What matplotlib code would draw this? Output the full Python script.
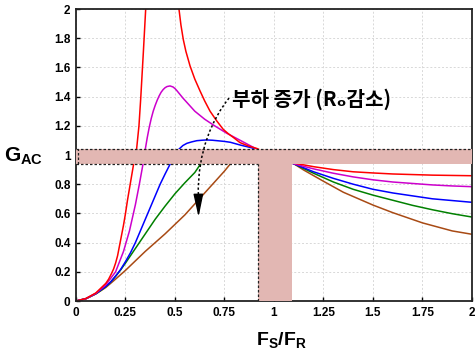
import numpy as np
import matplotlib
matplotlib.use("Agg")
from matplotlib import pyplot as plt
from matplotlib.path import Path
from matplotlib.patches import PathPatch, Rectangle

plt.rcParams['font.family'] = ['Liberation Sans', 'DejaVu Sans']
plt.rcParams['mathtext.fontset'] = 'custom'
plt.rcParams['mathtext.rm'] = 'Liberation Sans'
plt.rcParams['mathtext.bf'] = 'Liberation Sans:bold'

nan = np.nan

# gain curves (x = Fs/Fr, g = Gac)
red_x = [0, 0.05, 0.1, 0.15, 0.165, 0.18, 0.19, 0.2, 0.21, 0.22, 0.23, 0.24, 0.25, 0.26, 0.27,
         0.28, 0.29, 0.298, 0.306, 0.318, 0.327, 0.34, 0.352, 0.43,
         0.52, 0.53, 0.542, 0.555, 0.576, 0.6, 0.626, 0.65, 0.677, 0.71, 0.744, 0.77,
         0.795, 0.828, 0.87, 0.913, 1.0, 1.1, 1.2, 1.3, 1.4, 1.5, 1.6, 1.7, 1.8, 1.9, 2.0]
red_g = [0, 0.017, 0.055, 0.12, 0.15, 0.19, 0.22, 0.26, 0.31, 0.38, 0.45, 0.52, 0.6, 0.69, 0.77,
         0.85, 0.93, 0.98, 1.04, 1.2, 1.39, 1.70, 2.0, nan,
         2.0, 1.89, 1.79, 1.71, 1.61, 1.52, 1.44, 1.37, 1.30, 1.235, 1.175, 1.145,
         1.12, 1.085, 1.062, 1.045, 0.99, 0.945, 0.92, 0.9, 0.885, 0.877, 0.87, 0.866, 0.862, 0.86, 0.858]

magenta_x = [0, 0.05, 0.1, 0.15, 0.2, 0.24, 0.27, 0.3, 0.32, 0.34, 0.35, 0.36, 0.37, 0.38,
             0.39, 0.40, 0.41, 0.42, 0.43, 0.44, 0.45, 0.46, 0.475, 0.49, 0.5, 0.51, 0.525,
             0.54, 0.56, 0.58, 0.6, 0.65, 0.7, 0.76, 0.83, 0.913, 1.0,
             1.1, 1.2, 1.3, 1.4, 1.5, 1.6, 1.7, 1.8, 1.9, 2.0]
magenta_g = [0, 0.016, 0.052, 0.11, 0.2, 0.34, 0.48, 0.66, 0.8, 0.95, 1.04, 1.12, 1.19, 1.25,
             1.30, 1.34, 1.375, 1.405, 1.43, 1.448, 1.461, 1.469, 1.473, 1.466, 1.455, 1.44, 1.415,
             1.39, 1.36, 1.33, 1.30, 1.245, 1.20, 1.15, 1.10, 1.04, 0.985,
             0.94, 0.905, 0.875, 0.85, 0.83, 0.815, 0.805, 0.795, 0.788, 0.783]

blue_x = [0, 0.05, 0.1, 0.125, 0.15, 0.175, 0.2, 0.225, 0.25, 0.275, 0.3, 0.325, 0.35, 0.375,
          0.4, 0.425, 0.45, 0.48, 0.5, 0.52, 0.54, 0.56, 0.585, 0.61, 0.635, 0.66, 0.69,
          0.72, 0.75, 0.78, 0.83, 0.87, 0.913, 1.0,
          1.1, 1.2, 1.3, 1.4, 1.5, 1.6, 1.7, 1.8, 1.9, 2.0]
blue_g = [0, 0.016, 0.05, 0.075, 0.1, 0.13, 0.17, 0.215, 0.27, 0.33, 0.40, 0.48, 0.56, 0.64,
          0.72, 0.80, 0.87, 0.95, 1.0, 1.04, 1.065, 1.08, 1.09, 1.098, 1.101, 1.103, 1.101,
          1.097, 1.093, 1.087, 1.068, 1.055, 1.04, 0.985,
          0.94, 0.885, 0.84, 0.80, 0.765, 0.74, 0.72, 0.70, 0.688, 0.676]

green_x = [0, 0.05, 0.1, 0.125, 0.15, 0.175, 0.2, 0.225, 0.25, 0.275, 0.3, 0.35, 0.4, 0.45,
           0.5, 0.55, 0.6, 0.63, 0.7, 0.8, 0.913, 1.0,
           1.1, 1.2, 1.3, 1.4, 1.5, 1.6, 1.7, 1.8, 1.9, 2.0]
green_g = [0, 0.016, 0.05, 0.072, 0.098, 0.13, 0.17, 0.212, 0.26, 0.31, 0.36, 0.46, 0.56, 0.65,
           0.735, 0.81, 0.88, 0.94, 0.98, 1.01, 1.03, 0.99,
           0.94, 0.875, 0.815, 0.765, 0.725, 0.69, 0.655, 0.625, 0.598, 0.575]

brown_x = [0, 0.05, 0.1, 0.15, 0.2, 0.25, 0.3, 0.35, 0.4, 0.45, 0.5, 0.55, 0.6, 0.65, 0.7,
           0.75, 0.78, 0.85, 0.913, 1.0, 1.1, 1.15, 1.25, 1.35, 1.5, 1.6, 1.75, 1.9, 2.0]
brown_g = [0, 0.015, 0.048, 0.092, 0.15, 0.21, 0.275, 0.34, 0.40, 0.46, 0.525, 0.59, 0.665, 0.74, 0.815,
           0.89, 0.94, 0.99, 1.01, 0.99, 0.94, 0.897, 0.82, 0.745, 0.657, 0.605, 0.535, 0.48, 0.457]

x_ticks = [0, 0.25, 0.5, 0.75, 1, 1.25, 1.5, 1.75, 2]
x_tick_labels = ['0', '0.25', '0.5', '0.75', '1', '1.25', '1.5', '1.75', '2']
y_ticks = [0, 0.2, 0.4, 0.6, 0.8, 1.0, 1.2, 1.4, 1.6, 1.8, 2.0]
y_tick_labels = ['0', '0.2', '0.4', '0.6', '0.8', '1', '1.2', '1.4', '1.6', '1.8', '2']

# operating window (gain band and frequency band)
band_g = (0.938, 1.039)
band_f = (0.921, 1.092)

band_color = '#e2b7b3'


def draw_band(ax):
    ax.add_patch(Rectangle((0, band_g[0]), 2, band_g[1] - band_g[0],
                           facecolor=band_color, edgecolor='none', zorder=3))
    ax.add_patch(Rectangle((band_f[0], 0), band_f[1] - band_f[0], band_g[0],
                           facecolor=band_color, edgecolor='none', zorder=3))
    dash = dict(color='#222222', lw=0.9, ls=(0, (2, 1.6)), zorder=4)
    ax.plot([0, 2], [band_g[1], band_g[1]], **dash)
    ax.plot([0, band_f[0]], [band_g[0], band_g[0]], **dash)
    ax.plot([band_f[0], band_f[0]], [0, band_g[0]], **dash)
    ax.plot([0.008, 0.008], [band_g[0], band_g[1]], **dash)


def draw_arrow(ax):
    verts = [(0.773, 1.39), (0.69, 1.25), (0.612, 1.02), (0.618, 0.72)]
    codes = [Path.MOVETO, Path.CURVE4, Path.CURVE4, Path.CURVE4]
    ax.add_patch(PathPatch(Path(verts, codes), facecolor='none', edgecolor='black',
                           lw=1.1, ls=(0, (1.5, 1.5)), zorder=5))
    ax.annotate('', xy=(0.619, 0.575), xytext=(0.618, 0.72),
                arrowprops=dict(arrowstyle='-|>,head_length=1.4,head_width=0.3',
                                color='black', lw=1.0, shrinkA=0, shrinkB=0),
                zorder=5)


fig = plt.figure(figsize=(4.77, 3.53), dpi=100)
ax = fig.add_axes([76 / 477, 1 - 301 / 353, 396 / 477, 292 / 353])

ax.grid(True, color='#d8d8d8', lw=0.7, ls=(0, (2, 2)), zorder=0)
ax.set_axisbelow(True)

for xs, gs, c in [(brown_x, brown_g, '#a84a14'), (green_x, green_g, '#008000'),
                  (blue_x, blue_g, '#0000ff'), (magenta_x, magenta_g, '#cc00cc'),
                  (red_x, red_g, '#ff0000')]:
    ax.plot(xs, gs, color=c, lw=1.1, zorder=2, solid_joinstyle='round')

draw_band(ax)
draw_arrow(ax)

ax.text(0.79, 1.384, '부하 증가 (Rₒ감소)', family=['Noto Sans CJK KR', 'DejaVu Sans'],
        fontsize=14.5, fontweight='bold', ha='left', va='center', zorder=6)

ax.set_xlim(0, 2)
ax.set_ylim(0, 2)
ax.set_xticks(x_ticks)
ax.set_xticklabels(x_tick_labels)
ax.set_yticks(y_ticks)
ax.set_yticklabels(y_tick_labels)
ax.tick_params(direction='in', length=3, width=1, labelsize=8.5, pad=4)
for lab in ax.get_xticklabels() + ax.get_yticklabels():
    lab.set_fontweight('bold')
for s in ax.spines.values():
    s.set_linewidth(1.3)
    s.set_color('#222222')

fig.text(24 / 477, 1 - 156 / 353, r'$\mathbf{G_{AC}}$', fontsize=15, ha='center', va='center')
fig.text(281 / 477, 1 - 340 / 353, r'$\mathbf{F_S/F_R}$', fontsize=14, ha='center', va='center')

fig.savefig('out.png', dpi=100)
